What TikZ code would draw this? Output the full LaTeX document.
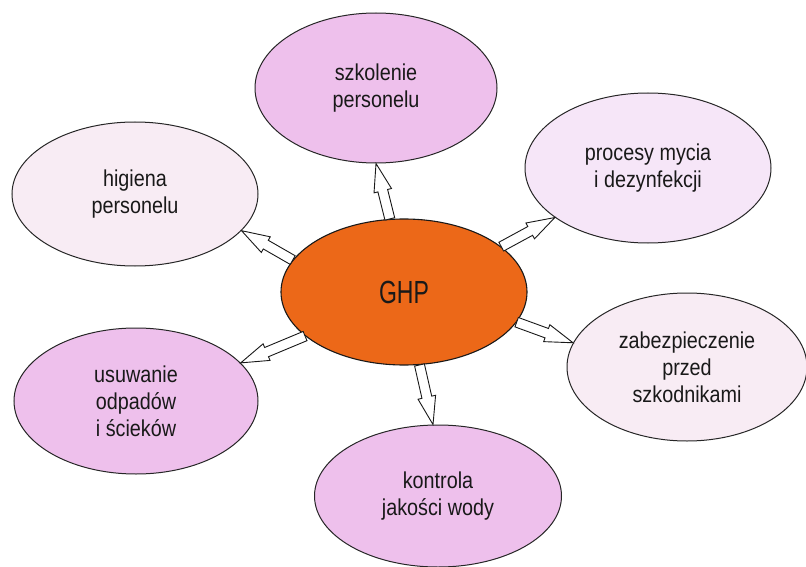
\documentclass[tikz,border=0pt]{standalone}
\usepackage{fontspec}
\usetikzlibrary{shapes.geometric,calc}
\newfontfamily\lblfont{Liberation Sans}[FakeStretch=0.86]
\newfontfamily\ghpfont{Liberation Sans}[FakeStretch=0.72]
\definecolor{ghporange}{RGB}{236,104,24}
\definecolor{pinkA}{RGB}{238,192,236}
\definecolor{pinkB}{RGB}{248,236,244}
\definecolor{pinkC}{RGB}{246,230,248}
\tikzset{
  bubble/.style={ellipse, draw=black!85, line width=1pt, inner sep=0pt,
    align=center, font=\lblfont\fontsize{23}{27}\selectfont, text=black!90},
  hub/.style={ellipse, draw=black!90, line width=1.1pt, fill=ghporange, inner sep=0pt,
    font=\ghpfont\fontsize{32}{36}\selectfont, text=black!90},
  arrowline/.style={draw=black!90, fill=white, line width=0.9pt, line join=miter}
}
\newcommand{\fatarrow}[2]{%
  \coordinate (fa-h) at ($(#2)!28pt!(#1)$);
  \draw[arrowline] ($(#1)!5pt!90:(#2)$) -- ($(fa-h)!5pt!90:(#2)$) --
    ($(fa-h)!9pt!90:(#2)$) -- (#2) -- ($(fa-h)!9pt!-90:(#2)$) --
    ($(fa-h)!5pt!-90:(#2)$) -- ($(#1)!5pt!-90:(#2)$) -- cycle;}
\begin{document}
\begin{tikzpicture}[x=1pt,y=-1pt]
\useasboundingbox (0,0) rectangle (806,567);
\node[hub, minimum width=246pt, minimum height=146pt] (ghp) at (404,292) {GHP};
\node[bubble, fill=pinkA, minimum width=242pt, minimum height=150pt] (szk) at (376,88) {szkolenie\\personelu};
\node[bubble, fill=pinkC, minimum width=246pt, minimum height=150pt] (myc) at (648,168) {procesy mycia\\i dezynfekcji};
\node[bubble, fill=pinkB, minimum width=246pt, minimum height=144pt] (hig) at (135,194) {higiena\\personelu};
\node[bubble, fill=pinkB, minimum width=240pt, minimum height=148pt] (zab) at (687,367) {zabezpieczenie\\przed\\szkodnikami};
\node[bubble, fill=pinkA, minimum width=244pt, minimum height=146pt] (usu) at (136,401) {usuwanie\\odpadów\\i ścieków};
\node[bubble, fill=pinkA, minimum width=247pt, minimum height=142pt] (kon) at (438,496) {kontrola\\jakości wody};
\fatarrow{ghp.101}{szk.270}
\fatarrow{ghp.164}{hig.341}
\fatarrow{ghp.25}{myc.208}
\fatarrow{ghp.-15}{zab.168}
\fatarrow{ghp.204}{usu.20}
\fatarrow{ghp.-78}{kon.94}
\end{tikzpicture}
\end{document}
